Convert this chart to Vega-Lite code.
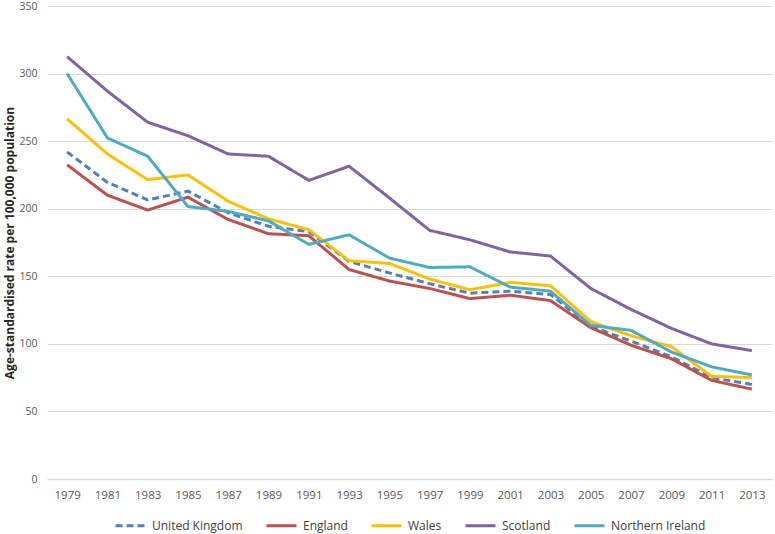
{
  "$schema": "https://vega.github.io/schema/vega-lite/v6.json",
  "width": 725,
  "height": 473,
  "autosize": {"type": "none"},
  "padding": {"left": 47, "top": 6, "right": 3, "bottom": 55},
  "background": "white",
  "config": {
    "font": "Open Sans",
    "view": {"stroke": null},
    "axis": {"labelFont": "Open Sans", "titleFont": "Open Sans"},
    "legend": {"labelFont": "Open Sans", "layout": {"bottom": {"anchor": "middle"}}}
  },
  "data": {
    "values": [
      {"year": "1979", "country": "United Kingdom", "rate": 242},
      {"year": "1981", "country": "United Kingdom", "rate": 219.5},
      {"year": "1983", "country": "United Kingdom", "rate": 206.5},
      {"year": "1985", "country": "United Kingdom", "rate": 213},
      {"year": "1987", "country": "United Kingdom", "rate": 197},
      {"year": "1989", "country": "United Kingdom", "rate": 187},
      {"year": "1991", "country": "United Kingdom", "rate": 183},
      {"year": "1993", "country": "United Kingdom", "rate": 161},
      {"year": "1995", "country": "United Kingdom", "rate": 152.5},
      {"year": "1997", "country": "United Kingdom", "rate": 144.5},
      {"year": "1999", "country": "United Kingdom", "rate": 137.5},
      {"year": "2001", "country": "United Kingdom", "rate": 139},
      {"year": "2003", "country": "United Kingdom", "rate": 136.5},
      {"year": "2005", "country": "United Kingdom", "rate": 113},
      {"year": "2007", "country": "United Kingdom", "rate": 102},
      {"year": "2009", "country": "United Kingdom", "rate": 90.5},
      {"year": "2011", "country": "United Kingdom", "rate": 75},
      {"year": "2013", "country": "United Kingdom", "rate": 70},
      {"year": "1979", "country": "England", "rate": 232.5},
      {"year": "1981", "country": "England", "rate": 210},
      {"year": "1983", "country": "England", "rate": 199},
      {"year": "1985", "country": "England", "rate": 208.5},
      {"year": "1987", "country": "England", "rate": 192},
      {"year": "1989", "country": "England", "rate": 181.5},
      {"year": "1991", "country": "England", "rate": 180},
      {"year": "1993", "country": "England", "rate": 155},
      {"year": "1995", "country": "England", "rate": 146.5},
      {"year": "1997", "country": "England", "rate": 141},
      {"year": "1999", "country": "England", "rate": 133.5},
      {"year": "2001", "country": "England", "rate": 136},
      {"year": "2003", "country": "England", "rate": 132},
      {"year": "2005", "country": "England", "rate": 112},
      {"year": "2007", "country": "England", "rate": 99},
      {"year": "2009", "country": "England", "rate": 89},
      {"year": "2011", "country": "England", "rate": 73},
      {"year": "2013", "country": "England", "rate": 66.5},
      {"year": "1979", "country": "Wales", "rate": 266.5},
      {"year": "1981", "country": "Wales", "rate": 240.5},
      {"year": "1983", "country": "Wales", "rate": 221.5},
      {"year": "1985", "country": "Wales", "rate": 225},
      {"year": "1987", "country": "Wales", "rate": 205.5},
      {"year": "1989", "country": "Wales", "rate": 192.5},
      {"year": "1991", "country": "Wales", "rate": 184.5},
      {"year": "1993", "country": "Wales", "rate": 161.5},
      {"year": "1995", "country": "Wales", "rate": 159.5},
      {"year": "1997", "country": "Wales", "rate": 148},
      {"year": "1999", "country": "Wales", "rate": 140},
      {"year": "2001", "country": "Wales", "rate": 145.5},
      {"year": "2003", "country": "Wales", "rate": 143},
      {"year": "2005", "country": "Wales", "rate": 116.5},
      {"year": "2007", "country": "Wales", "rate": 106},
      {"year": "2009", "country": "Wales", "rate": 98},
      {"year": "2011", "country": "Wales", "rate": 76},
      {"year": "2013", "country": "Wales", "rate": 75},
      {"year": "1979", "country": "Scotland", "rate": 312.5},
      {"year": "1981", "country": "Scotland", "rate": 287},
      {"year": "1983", "country": "Scotland", "rate": 264},
      {"year": "1985", "country": "Scotland", "rate": 254},
      {"year": "1987", "country": "Scotland", "rate": 240.5},
      {"year": "1989", "country": "Scotland", "rate": 238.8},
      {"year": "1991", "country": "Scotland", "rate": 221},
      {"year": "1993", "country": "Scotland", "rate": 231.4},
      {"year": "1995", "country": "Scotland", "rate": 208},
      {"year": "1997", "country": "Scotland", "rate": 184},
      {"year": "1999", "country": "Scotland", "rate": 177},
      {"year": "2001", "country": "Scotland", "rate": 168},
      {"year": "2003", "country": "Scotland", "rate": 165},
      {"year": "2005", "country": "Scotland", "rate": 141},
      {"year": "2007", "country": "Scotland", "rate": 125.5},
      {"year": "2009", "country": "Scotland", "rate": 111.5},
      {"year": "2011", "country": "Scotland", "rate": 100},
      {"year": "2013", "country": "Scotland", "rate": 95},
      {"year": "1979", "country": "Northern Ireland", "rate": 300},
      {"year": "1981", "country": "Northern Ireland", "rate": 252.4},
      {"year": "1983", "country": "Northern Ireland", "rate": 238.8},
      {"year": "1985", "country": "Northern Ireland", "rate": 201.6},
      {"year": "1987", "country": "Northern Ireland", "rate": 198},
      {"year": "1989", "country": "Northern Ireland", "rate": 191},
      {"year": "1991", "country": "Northern Ireland", "rate": 173.6},
      {"year": "1993", "country": "Northern Ireland", "rate": 180.7},
      {"year": "1995", "country": "Northern Ireland", "rate": 163.5},
      {"year": "1997", "country": "Northern Ireland", "rate": 156.5},
      {"year": "1999", "country": "Northern Ireland", "rate": 157},
      {"year": "2001", "country": "Northern Ireland", "rate": 142},
      {"year": "2003", "country": "Northern Ireland", "rate": 139},
      {"year": "2005", "country": "Northern Ireland", "rate": 113.7},
      {"year": "2007", "country": "Northern Ireland", "rate": 110},
      {"year": "2009", "country": "Northern Ireland", "rate": 94},
      {"year": "2011", "country": "Northern Ireland", "rate": 83},
      {"year": "2013", "country": "Northern Ireland", "rate": 77}
    ]
  },
  "mark": {"type": "line", "strokeWidth": 3, "strokeCap": "butt", "strokeJoin": "miter"},
  "encoding": {
    "x": {
      "field": "year",
      "type": "ordinal",
      "scale": {"type": "point", "padding": 0.5},
      "axis": {
        "title": null,
        "labelAngle": 0,
        "ticks": false,
        "labelPadding": 10,
        "labelFontSize": 11.5,
        "labelColor": "#595959",
        "domainColor": "#d9d9d9",
        "domainWidth": 1.5,
        "grid": false
      }
    },
    "y": {
      "field": "rate",
      "type": "quantitative",
      "scale": {"domain": [0, 350], "nice": false},
      "axis": {
        "title": "Age-standardised rate per 100,000 population",
        "titleFontSize": 12,
        "titleFontWeight": "bold",
        "titleColor": "#262626",
        "titlePadding": 2,
        "values": [0, 50, 100, 150, 200, 250, 300, 350],
        "domain": false,
        "ticks": false,
        "labelPadding": 10,
        "labelFontSize": 10.5,
        "labelColor": "#595959",
        "gridColor": "#d9d9d9",
        "gridWidth": 1
      }
    },
    "color": {
      "field": "country",
      "type": "nominal",
      "sort": ["United Kingdom", "England", "Wales", "Scotland", "Northern Ireland"],
      "scale": {
        "domain": ["United Kingdom", "England", "Wales", "Scotland", "Northern Ireland"],
        "range": ["#4F81BD", "#C0504D", "#FFC000", "#8064A2", "#4BACC6"]
      },
      "legend": {
        "title": null,
        "orient": "bottom",
        "direction": "horizontal",
        "symbolType": "stroke",
        "symbolSize": 900,
        "symbolStrokeWidth": 3,
        "labelFontSize": 12,
        "labelColor": "#404040",
        "labelOffset": 5,
        "columnPadding": 17,
        "offset": 8
      }
    },
    "strokeDash": {
      "field": "country",
      "type": "nominal",
      "sort": ["United Kingdom", "England", "Wales", "Scotland", "Northern Ireland"],
      "scale": {
        "domain": ["United Kingdom", "England", "Wales", "Scotland", "Northern Ireland"],
        "range": [[7, 4], [1, 0], [1, 0], [1, 0], [1, 0]]
      },
      "legend": {
        "title": null,
        "orient": "bottom",
        "direction": "horizontal",
        "symbolType": "stroke",
        "symbolSize": 900,
        "symbolStrokeWidth": 3,
        "labelFontSize": 12,
        "labelColor": "#404040",
        "labelOffset": 5,
        "columnPadding": 17,
        "offset": 8
      }
    }
  }
}
